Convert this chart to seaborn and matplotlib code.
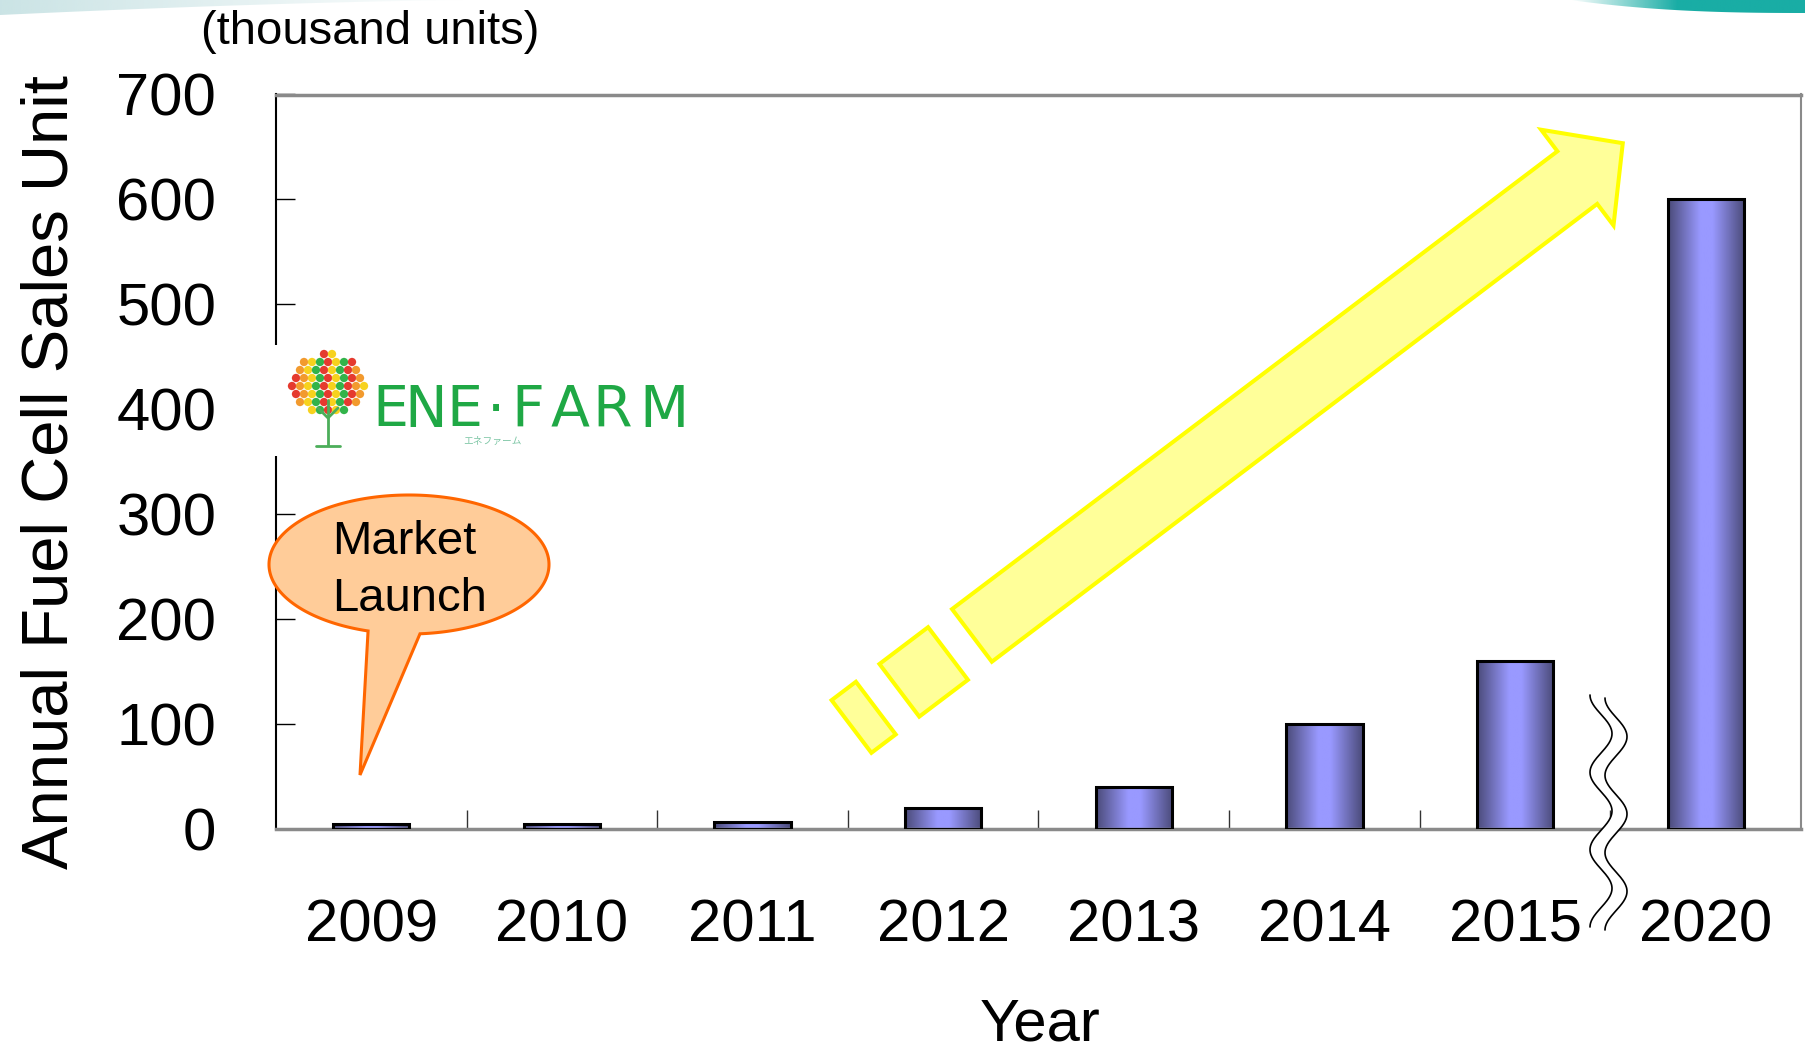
import numpy as np
import pandas as pd
import matplotlib
matplotlib.use('Agg')
import matplotlib.pyplot as plt
from matplotlib.colors import LinearSegmentedColormap
from matplotlib.patches import Polygon, Rectangle
import seaborn as sns

# chart data
years = ['2009', '2010', '2011', '2012', '2013', '2014', '2015', '2020']
sales = [5, 5, 7, 20, 40, 100, 160, 600]  # thousand units
y_ticks = [0, 100, 200, 300, 400, 500, 600, 700]

sns.set_style('white')
plt.rcParams['font.family'] = ['Liberation Sans', 'DejaVu Sans']
plt.rcParams['text.color'] = 'black'

W, H = 1806, 1053
fig = plt.figure(figsize=(W / 100, H / 100), dpi=100)
ax = fig.add_axes([276 / W, 1 - 829 / H, 1525 / W, 734.5 / H])

df = pd.DataFrame({'year': years, 'sales': sales})
sns.barplot(data=df, x='year', y='sales', order=years, color='#9999ff',
            width=0.4, edgecolor='black', linewidth=2.2, ax=ax, zorder=3)

# shaded bars: horizontal gradient clipped to each bar
bar_cmap = LinearSegmentedColormap.from_list(
    'bar', [(0, '#4a4a78'), (0.42, '#9999ff'), (0.58, '#9999ff'), (1, '#4a4a78')])
grad = np.linspace(0, 1, 256).reshape(1, -1)
for p in ax.patches:
    x0, y0, w, h = p.get_x(), p.get_y(), p.get_width(), p.get_height()
    im = ax.imshow(grad, extent=[x0, x0 + w, y0, y0 + h], aspect='auto',
                   cmap=bar_cmap, zorder=2.5, interpolation='bilinear')
    im.set_clip_path(p)
    p.set_facecolor('none')

ax.set_xlim(-0.5, len(years) - 0.5)
ax.set_ylim(0, 700)
ax.set_yticks(y_ticks)
ax.tick_params(axis='y', direction='in', length=14, width=1, pad=43,
               labelsize=43, colors='black', left=True)
ax.set_xticks(range(len(years)), years)
ax.tick_params(axis='x', which='major', length=0, pad=50, labelsize=43,
               colors='black')
ax.set_xticks(np.arange(0.5, len(years) - 1), minor=True)
ax.tick_params(axis='x', which='minor', direction='in', length=14, width=1,
               color='#333333', bottom=True)

for side, col, lw in [('top', '#8a8a8a', 2.5), ('bottom', '#8a8a8a', 2.5),
                      ('left', 'black', 1.5), ('right', '#8a8a8a', 1.5)]:
    ax.spines[side].set_visible(True)
    ax.spines[side].set_color(col)
    ax.spines[side].set_linewidth(lw)

ax.set_ylabel('Annual Fuel Cell Sales Unit', fontsize=47, color='black')
ax.yaxis.set_label_coords(-0.128, 0.486)
ax.set_xlabel('Year', fontsize=43, color='black')
ax.xaxis.set_label_coords(0.501, -0.229)

# overlay in pixel coordinates for the slide decorations
ov = fig.add_axes([0, 0, 1, 1], zorder=5)
ov.set_xlim(0, W)
ov.set_ylim(H, 0)
ov.axis('off')
ov.patch.set_alpha(0)

ov.text(370, 32, '(thousand units)', fontsize=34, ha='center', va='center')

# corner swooshes
def swoosh(xs, bottom, rgb, alpha):
    verts = np.column_stack([np.r_[xs, xs[::-1]], np.r_[bottom, np.zeros_like(xs)]])
    poly = Polygon(verts, closed=True, facecolor='none', edgecolor='none')
    ov.add_patch(poly)
    arr = np.zeros((1, len(alpha), 4))
    arr[..., :3] = matplotlib.colors.to_rgb(rgb)
    arr[0, :, 3] = alpha
    im = ov.imshow(arr, extent=[xs[0], xs[-1], 20, 0], aspect='auto', zorder=1)
    im.set_clip_path(poly)

xl = np.linspace(0, 480, 100)
swoosh(xl, 15 * (1 - xl / 480) ** 1.5, '#b4d8da', np.linspace(0.7, 0, 256))
xr = np.linspace(1570, W, 100)
swoosh(xr, 13 * (1 - (1 - (xr - 1570) / (W - 1570)) ** 2.5), '#19ada5',
       np.clip(np.linspace(0, 2.2, 256), 0, 1))

# yellow growth arrow (dashed tail + body + head)
S0 = np.array([851.5, 726.5])
u = np.array([0.7976, -0.6032])
v = np.array([0.6032, 0.7976])


def pt(s, t):
    return S0 + s * u + t * v


arrow_kw = dict(closed=True, facecolor='#ffff99', edgecolor='#ffff00',
                linewidth=2.9, joinstyle='miter', zorder=3)
for s0, s1 in [(0, 30.5), (60, 121)]:
    ov.add_patch(Polygon([pt(s0, -33), pt(s1, -33), pt(s1, 33), pt(s0, 33)], **arrow_kw))
ov.add_patch(Polygon([pt(151, -33), pt(910, -33), pt(910, -60), pt(967, 0),
                      pt(910, 60), pt(910, 33), pt(151, 33)], **arrow_kw))

# "Market Launch" callout
cx, cy, a, b = 409, 564.5, 140, 69.5
th = np.radians(np.linspace(107, 85.5 + 360, 300))
callout = np.column_stack([cx + a * np.cos(th), cy + b * np.sin(th)])
callout = np.vstack([callout, [[360, 775]]])
ov.add_patch(Polygon(callout, closed=True, facecolor='#ffcc99',
                     edgecolor='#ff6600', linewidth=2.2, zorder=3))
ov.text(332, 554, 'Market', fontsize=34, ha='left', va='baseline', zorder=4)
ov.text(332, 611, 'Launch', fontsize=34, ha='left', va='baseline', zorder=4)

# ENE-FARM logo
ov.add_patch(Rectangle((270, 345), 453, 111, facecolor='white',
                       edgecolor='none', zorder=3))
tree_colors = ['#e53a2f', '#32b34a', '#f7d21e', '#f29a2e']
gx, gy = np.meshgrid(np.arange(-36, 37, 8.0), np.arange(-30, 31, 8.0))
gx = gx + (np.arange(gx.shape[0])[:, None] % 2) * 4.0
keep = (gx / 37) ** 2 + (gy / 31) ** 2 <= 1
idx = np.arange(gx.size).reshape(gx.shape)
dot_cols = [tree_colors[(i * 7 + (i // 5) * 3) % 4] for i in idx[keep]]
ov.scatter(328 + gx[keep], 384 + gy[keep], s=36, c=dot_cols,
           edgecolors='none', zorder=4)
trunk_kw = dict(color='#4cae5a', linewidth=2, zorder=4, solid_capstyle='round')
ov.plot([328, 328], [400, 445], **trunk_kw)
ov.plot([318, 328, 338], [408, 418, 408], **trunk_kw)
ov.plot([316, 340], [446, 446], **trunk_kw)
for ch, x in zip('ENE·FARM', [390, 426, 464, 496, 528, 570, 612, 664]):
    ov.text(x, 427, ch, fontsize=41, color='#1fa845', ha='center',
            va='baseline', family=['DejaVu Sans'], zorder=5)
ov.text(492, 441, 'エネファーム', fontsize=7, color='#7dc6a5', ha='center',
        va='center', family=['Noto Sans CJK JP', 'DejaVu Sans'], zorder=5)

# axis break marks between 2015 and 2020
yb = np.linspace(695, 927, 300)
wave = np.cos(np.pi * 6 * (yb - 695) / 232)
xb1 = 1601 - 11 * wave
xb2 = xb1 + 15
ov.fill_betweenx(yb, xb1, xb2, color='white', zorder=3)
ov.plot(xb1, yb, color='black', linewidth=1.2, zorder=4)
ov.plot(xb2, yb + 3, color='black', linewidth=1.2, zorder=4)

fig.savefig('out.png', dpi=100, facecolor='white')
